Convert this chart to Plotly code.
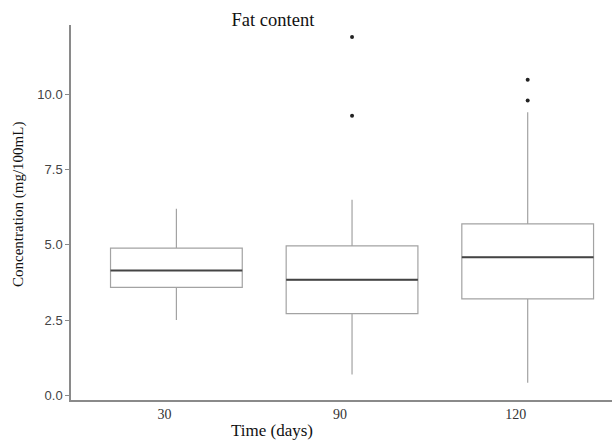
import plotly.graph_objects as go

categories = ["30", "90", "120"]
q1 = [3.59, 2.72, 3.21]
median = [4.15, 3.84, 4.59]
q3 = [4.89, 4.97, 5.70]
lower = [2.51, 0.70, 0.42]
upper = [6.20, 6.50, 9.40]
outlier_group = [1, 1, 2, 2]
outlier_vals = [11.9, 9.29, 10.48, 9.79]
yticks = [0.0, 2.5, 5.0, 7.5, 10.0]

pos = list(range(len(categories)))
fig = go.Figure()
fig.add_trace(go.Box(
    x=pos, q1=q1, median=median, q3=q3, lowerfence=lower, upperfence=upper,
    width=0.75, whiskerwidth=0, fillcolor="white",
    line=dict(color="#a3a3a3", width=1.2), boxpoints=False, showlegend=False,
))
for i, m in zip(pos, median):
    fig.add_trace(go.Scatter(x=[i - 0.375, i + 0.375], y=[m, m], mode="lines",
                             line=dict(color="#444444", width=2), showlegend=False,
                             hoverinfo="skip"))
fig.add_trace(go.Scatter(x=outlier_group, y=outlier_vals, mode="markers",
                         marker=dict(color="#222222", size=4), showlegend=False))

serif = "Liberation Serif, DejaVu Serif, serif"
fig.update_layout(
    width=612, height=442,
    margin=dict(l=71, r=0, t=25, b=42),
    plot_bgcolor="white", paper_bgcolor="white",
    title=dict(text="Fat content", x=0.446, xanchor="center", y=0.955, yanchor="middle",
               font=dict(family=serif, size=18.5, color="#111111")),
    xaxis=dict(range=[-0.6, 2.48], tickmode="array", tickvals=pos, ticktext=categories,
               showgrid=False, zeroline=False, showline=True, linecolor="#8a8a8a", linewidth=1.5,
               ticks="", ticklabelshift=-12,
               tickfont=dict(family=serif, size=14, color="#333333"),
               automargin=False),
    yaxis=dict(range=[-0.15, 12.3], tickmode="array", tickvals=yticks,
               ticktext=[f"{v:.1f}" for v in yticks],
               showgrid=False, zeroline=False, showline=True, linecolor="#8a8a8a", linewidth=1.5,
               ticks="outside", ticklen=4, tickcolor="#8a8a8a", automargin=False,
               tickfont=dict(family="Liberation Sans, Arial, sans-serif", size=13, color="#444444")),
    annotations=[
        dict(text="Time (days)", xref="paper", yref="paper", x=0.3715, y=0,
             xanchor="center", yanchor="middle", yshift=-30, showarrow=False,
             font=dict(family=serif, size=17, color="#111111")),
        dict(text="Concentration (mg/100mL)", xref="paper", yref="paper", x=0, y=0.52,
             xanchor="center", yanchor="middle", xshift=-53, textangle=-90, showarrow=False,
             font=dict(family=serif, size=15, color="#111111")),
    ],
)
fig.write_html("out.html", config={"displayModeBar": False},
               post_script="document.body.style.margin='0';document.body.style.overflow='hidden';")
